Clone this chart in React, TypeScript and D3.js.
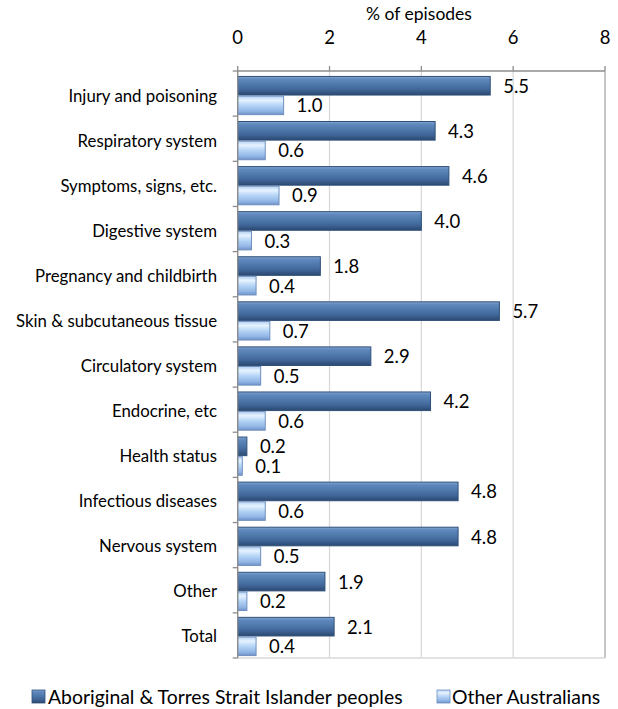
import React from "react";
import * as d3 from "d3";

const categories = [
  "Injury and poisoning",
  "Respiratory system",
  "Symptoms, signs, etc.",
  "Digestive system",
  "Pregnancy and childbirth",
  "Skin & subcutaneous tissue",
  "Circulatory system",
  "Endocrine, etc",
  "Health status",
  "Infectious diseases",
  "Nervous system",
  "Other",
  "Total",
];
const indigenous = [5.5, 4.3, 4.6, 4.0, 1.8, 5.7, 2.9, 4.2, 0.2, 4.8, 4.8, 1.9, 2.1];
const other = [1.0, 0.6, 0.9, 0.3, 0.4, 0.7, 0.5, 0.6, 0.1, 0.6, 0.5, 0.2, 0.4];
const xTicks = [0, 2, 4, 6, 8];
const seriesNames = ["Aboriginal & Torres Strait Islander peoples", "Other Australians"];

const W = 618;
const H = 709;
const FONT = "Lato, 'Open Sans', sans-serif";
const TOP = 71;
const BOTTOM = 658;
const LEFT = 237.7;
const RIGHT = 605;

export default function App() {
  const x = d3.scaleLinear().domain([0, 8]).range([LEFT, RIGHT]);
  const y = d3.scaleBand<string>().domain(categories).range([73, 659]).paddingInner(0.13).paddingOuter(0.065);
  const sub = d3.scaleBand<number>().domain([0, 1]).range([0, y.bandwidth()]);
  const series = [indigenous, other];
  const fills = ["url(#gDark)", "url(#gLight)"];
  const strokes = ["#2F5079", "#6F8FBF"];
  const step = (BOTTOM - TOP) / categories.length;

  return (
    <svg width={W} height={H} style={{ position: "absolute", left: 0, top: 0, background: "#fff" }}>
      <defs>
        <linearGradient id="gDark" x1="0" y1="0" x2="0" y2="1">
          <stop offset="0" stopColor="#86A6D0" />
          <stop offset="0.15" stopColor="#5F88BD" />
          <stop offset="0.45" stopColor="#4E77AA" />
          <stop offset="0.7" stopColor="#41679A" />
          <stop offset="1" stopColor="#2B4870" />
        </linearGradient>
        <linearGradient id="gLight" x1="0" y1="0" x2="0" y2="1">
          <stop offset="0" stopColor="#B3CFF2" />
          <stop offset="0.22" stopColor="#E6F3FF" />
          <stop offset="0.5" stopColor="#B5D4F6" />
          <stop offset="0.8" stopColor="#93B7E6" />
          <stop offset="1" stopColor="#6F93C9" />
        </linearGradient>
      </defs>

      {/* axis title */}
      <text x={419} y={20} textAnchor="middle" fontFamily={FONT} fontSize={17.5} fill="#000">
        % of episodes
      </text>

      {/* gridlines */}
      {xTicks.map((t) => (
        <line key={"g" + t} x1={x(t)} x2={x(t)} y1={TOP} y2={BOTTOM} stroke={t === 8 ? "#A6A6A6" : "#D9D9D9"} strokeWidth={1.3} />
      ))}
      <line x1={LEFT} x2={RIGHT} y1={BOTTOM} y2={BOTTOM} stroke="#D9D9D9" strokeWidth={1.3} />
      {/* top axis */}
      <line x1={LEFT} x2={RIGHT} y1={TOP} y2={TOP} stroke="#8C8C8C" strokeWidth={1.3} />
      {xTicks.map((t) => (
        <g key={"t" + t}>
          <line x1={x(t)} x2={x(t)} y1={66} y2={TOP} stroke="#8C8C8C" strokeWidth={1.3} />
          <text x={x(t)} y={44} textAnchor="middle" fontFamily={FONT} fontSize={18.5} fill="#000">
            {t}
          </text>
        </g>
      ))}

      {/* bars */}
      {categories.map((c, i) => (
        <g key={c}>
          {series.map((s, k) => {
            const by = (y(c) as number) + (sub(k) as number);
            const bh = sub.bandwidth();
            const w = x(s[i]) - x(0);
            return (
              <g key={k}>
                <rect x={x(0)} y={by + 0.5} width={w} height={bh - 1} fill={fills[k]} stroke={strokes[k]} strokeWidth={1} />
                <text x={x(s[i]) + 13} y={by + bh / 2 + 7} fontFamily={FONT} fontSize={18.5} fill="#000">
                  {s[i].toFixed(1)}
                </text>
              </g>
            );
          })}
          <text x={217} y={(y(c) as number) + y.bandwidth() / 2 + 6} textAnchor="end" fontFamily={FONT} fontSize={16.8} fill="#000">
            {c}
          </text>
        </g>
      ))}

      {/* left axis */}
      <line x1={LEFT} x2={LEFT} y1={TOP} y2={BOTTOM} stroke="#8C8C8C" strokeWidth={1.3} />
      {d3.range(categories.length + 1).map((j) => {
        const yy = TOP + step * j;
        return <line key={"lt" + j} x1={LEFT - 5} x2={LEFT} y1={yy} y2={yy} stroke="#8C8C8C" strokeWidth={1.3} />;
      })}

      {/* legend */}
      <g>
        <rect x={32} y={690} width={13} height={13} fill="url(#gDark)" stroke={strokes[0]} strokeWidth={0.8} />
        <text x={48} y={703.5} fontFamily={FONT} fontSize={19.4} fill="#000">
          {seriesNames[0]}
        </text>
        <rect x={437} y={690} width={13} height={13} fill="url(#gLight)" stroke={strokes[1]} strokeWidth={0.8} />
        <text x={452} y={703.5} fontFamily={FONT} fontSize={19.4} fill="#000">
          {seriesNames[1]}
        </text>
      </g>
    </svg>
  );
}
